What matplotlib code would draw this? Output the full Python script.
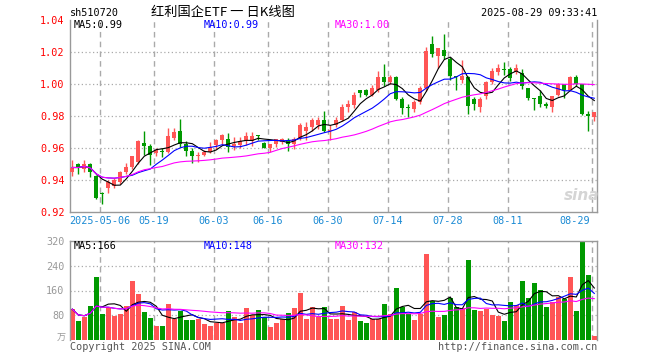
import numpy as np
import pandas as pd
import matplotlib
matplotlib.use('Agg')
import matplotlib.pyplot as plt

# ---------------- data ----------------
holidays = pd.to_datetime(['2025-05-01', '2025-05-02', '2025-05-05', '2025-06-02'])
dates = pd.bdate_range('2025-04-24', '2025-08-29')
dates = dates[~dates.isin(holidays)]

opens = [0.9455, 0.950, 0.947, 0.950, 0.943, 0.932, 0.935, 0.9365, 0.939, 0.945,
         0.9485, 0.9515, 0.9635, 0.9615, 0.957, 0.958, 0.958, 0.9665, 0.9708, 0.963,
         0.9585, 0.955, 0.9558, 0.958, 0.962, 0.965, 0.966, 0.9615, 0.962, 0.9648,
         0.9645, 0.968, 0.9635, 0.960, 0.963, 0.964, 0.965, 0.963, 0.9662, 0.971,
         0.9735, 0.9746, 0.978, 0.9708, 0.9746, 0.9777, 0.986, 0.987, 0.9964, 0.9963,
         0.9935, 0.9964, 1.0048, 1.0015, 1.0044, 0.991, 0.9855, 0.9845, 0.989, 0.9975,
         1.025, 1.0177, 1.0215, 1.016, 1.0048, 1.0025, 1.0045, 0.991, 0.986, 0.993,
         1.0015, 1.008, 1.0095, 1.0097, 1.008, 1.007, 0.9975, 0.9915, 0.9927, 0.9877,
         0.986, 0.9933, 1.000, 0.9965, 1.0044, 1.000, 0.9815, 0.9797]
highs = [0.953, 0.951, 0.953, 0.951, 0.9435, 0.933, 0.940, 0.9415, 0.946, 0.951,
         0.955, 0.965, 0.9708, 0.963, 0.9605, 0.9605, 0.9725, 0.9725, 0.9783, 0.9645,
         0.960, 0.9575, 0.959, 0.964, 0.966, 0.969, 0.9695, 0.967, 0.967, 0.970,
         0.970, 0.9683, 0.964, 0.963, 0.966, 0.9665, 0.9665, 0.967, 0.976, 0.9765,
         0.979, 0.9795, 0.9833, 0.9745, 0.9795, 0.988, 0.990, 0.9955, 0.9965, 0.997,
         0.9995, 1.0085, 1.013, 1.006, 1.005, 0.992, 0.9875, 0.990, 0.999, 1.0235,
         1.030, 1.023, 1.0315, 1.017, 1.0055, 1.0152, 1.005, 0.992, 0.992, 1.002,
         1.0105, 1.0125, 1.014, 1.011, 1.0125, 1.0095, 0.998, 0.9917, 0.9964, 0.989,
         0.993, 1.001, 1.0005, 1.005, 1.0058, 1.0005, 0.9833, 0.983]
lows = [0.943, 0.944, 0.945, 0.942, 0.9285, 0.9255, 0.932, 0.9355, 0.938, 0.944,
        0.947, 0.950, 0.956, 0.9497, 0.955, 0.9545, 0.957, 0.965, 0.961, 0.955,
        0.951, 0.9515, 0.955, 0.957, 0.9595, 0.962, 0.958, 0.959, 0.960, 0.962,
        0.9615, 0.9655, 0.960, 0.958, 0.961, 0.963, 0.9583, 0.9595, 0.965, 0.9655,
        0.971, 0.972, 0.970, 0.965, 0.9735, 0.977, 0.983, 0.9855, 0.992, 0.993,
        0.993, 0.995, 0.999, 1.000, 0.990, 0.9815, 0.9797, 0.9825, 0.988, 0.996,
        1.017, 1.0105, 1.016, 1.003, 0.9965, 1.001, 0.9815, 0.984, 0.9825, 0.991,
        1.000, 1.006, 1.006, 1.002, 1.0065, 0.997, 0.990, 0.984, 0.9856, 0.985,
        0.983, 0.993, 0.9913, 0.996, 0.999, 0.981, 0.971, 0.9773]
closes = [0.948, 0.948, 0.950, 0.945, 0.929, 0.9315, 0.939, 0.940, 0.9455, 0.9485,
          0.955, 0.9645, 0.9617, 0.9558, 0.9588, 0.9577, 0.968, 0.970, 0.963, 0.9585,
          0.955, 0.9558, 0.958, 0.961, 0.965, 0.9683, 0.961, 0.963, 0.9645, 0.968,
          0.968, 0.9678, 0.9605, 0.9627, 0.9656, 0.966, 0.9627, 0.966, 0.9745, 0.9735,
          0.9777, 0.978, 0.971, 0.9715, 0.978, 0.986, 0.9875, 0.9933, 0.9948, 0.9935,
          0.9975, 1.0048, 1.0013, 1.0045, 0.991, 0.985, 0.985, 0.989, 0.9975, 1.021,
          1.019, 1.0225, 1.0175, 1.005, 1.0045, 1.0052, 0.9865, 0.9875, 0.991, 1.0015,
          1.0085, 1.010, 1.009, 1.0037, 1.0105, 0.999, 0.9912, 0.991, 0.988, 0.9865,
          0.9927, 1.000, 0.9965, 1.0048, 1.000, 0.9815, 0.980, 0.9829]
volumes = [100, 63, 74, 110, 204, 86, 107, 79, 84, 110,
           191, 148, 91, 71, 46, 46, 117, 68, 95, 66,
           66, 70, 51, 46, 57, 57, 94, 74, 57, 103,
           81, 97, 75, 44, 54, 70, 87, 103, 153, 69,
           106, 75, 107, 67, 67, 110, 65, 90, 62, 55,
           67, 67, 116, 83, 169, 108, 86, 65, 83, 276,
           127, 75, 81, 137, 107, 105, 257, 97, 94, 102,
           81, 79, 62, 124, 113, 190, 137, 185, 161, 107,
           124, 140, 134, 204, 94, 319, 209, 14]

tick_dates = ['2025-05-06', '2025-05-19', '2025-06-03', '2025-06-16', '2025-06-30',
              '2025-07-14', '2025-07-28', '2025-08-11', '2025-08-29']
tick_labels = ['2025-05-06', '05-19', '06-03', '06-16', '06-30',
               '07-14', '07-28', '08-11', '08-29']
price_ticks = [0.92, 0.94, 0.96, 0.98, 1.00, 1.02, 1.04]
vol_ticks = [80, 160, 240, 320]
price_ma_text = ['MA5:0.99', 'MA10:0.99', 'MA30:1.00']
vol_ma_text = ['MA5:166', 'MA10:148', 'MA30:132']

# ---------------- style ----------------
RED = '#ff5555'
GREEN = '#009900'
GRID = '#aaaaaa'
MONO = 'DejaVu Sans Mono'
ma_colors = ['#000000', '#0000ff', '#ff00ff']
ma_periods = [5, 10, 30]

W, H = 660, 360
fig = plt.figure(figsize=(6.6, 3.6), dpi=100)
fig.patch.set_facecolor('white')

L, R = 70, 597
ax = fig.add_axes([L / W, 1 - 212.3 / H, (R - L) / W, 192.0 / H])
axv = fig.add_axes([L / W, 1 - 340.3 / H, (R - L) / W, 99.6 / H])

n = len(closes)
x = np.arange(n)
o = np.array(opens); h = np.array(highs); lo = np.array(lows); c = np.array(closes)
up = c >= o
cols = np.where(up, RED, GREEN)

# grid
grid_x = [list(dates.strftime('%Y-%m-%d')).index(d) - 0.36 for d in tick_dates]
for a in (ax, axv):
    for gx in grid_x:
        a.axvline(gx, color=GRID, lw=1.0, ls=(0, (4, 3)), zorder=0)
for yv in [0.94, 0.96, 0.98, 1.00, 1.02]:
    ax.axhline(yv, color=GRID, lw=0.9, ls=(0, (1, 2)), zorder=0)
for yv in [80, 160, 240]:
    axv.axhline(yv, color=GRID, lw=0.9, ls=(0, (1, 2)), zorder=0)

# candles
ax.vlines(x, lo, h, colors=cols, lw=1.0, zorder=2)
body_bot = np.minimum(o, c)
body_h = np.maximum(np.abs(c - o), 0.0006)
ax.bar(x, body_h, bottom=body_bot, width=0.68, color=cols, lw=0, zorder=3)

# moving averages on price
cs = pd.Series(closes)
for p, col in zip(ma_periods, ma_colors):
    ax.plot(x, cs.rolling(p, min_periods=1).mean(), color=col, lw=0.8, zorder=4)

# volume
axv.bar(x, volumes, width=0.82, color=cols, lw=0, zorder=2)
vs = pd.Series(volumes, dtype=float)
for p, col in zip(ma_periods, ma_colors):
    axv.plot(x, vs.rolling(p, min_periods=1).mean(), color=col, lw=0.8, zorder=4)

xl = (-(72.3 - L) / 6.0, (n - 1) + (R - 594.3) / 6.0)
for a in (ax, axv):
    a.set_xlim(*xl)
    a.set_xticks([])
    for s in a.spines.values():
        s.set_color('#999999')
        s.set_linewidth(1.0)
ax.spines['top'].set_visible(False)
axv.spines['bottom'].set_visible(False)

ax.set_ylim(0.92, 1.04)
ax.set_yticks(price_ticks)
ax.set_yticklabels(['%.2f' % t for t in price_ticks], color='#ff0000',
                   fontsize=7.3, family=MONO)
ax.tick_params(axis='y', length=0, pad=4)

axv.set_ylim(0, 320)
axv.set_yticks(vol_ticks)
axv.set_yticklabels([str(t) for t in vol_ticks], color='#999999',
                    fontsize=7.3, family=MONO)
axv.tick_params(axis='y', length=0, pad=4)

# date labels
for gx, lab in zip(grid_x, tick_labels):
    px = L + (gx - xl[0]) * 6.0
    if lab == tick_labels[-1]:
        fig.text((px - 2) / W, 1 - 221.5 / H, lab, ha='right', va='center',
                 color='#1a8ad4', fontsize=7.3, family=MONO)
    else:
        fig.text(px / W, 1 - 221.5 / H, lab, ha='center', va='center',
                 color='#1a8ad4', fontsize=7.3, family=MONO)

# header
fig.text(L / W, 1 - 13 / H, 'sh510720', ha='left', va='center',
         fontsize=7.3, family=MONO, color='black')
fig.text(223 / W, 1 - 12.5 / H, '红利国企ETF 一 日K线图', ha='center', va='center',
         fontsize=9.5, family=['Noto Sans CJK SC', 'DejaVu Sans'], color='black')
fig.text(R / W, 1 - 13 / H, '2025-08-29 09:33:41', ha='right', va='center',
         fontsize=7.3, family=MONO, color='black')

# MA labels
for xp, t, col in zip([74, 204, 335], price_ma_text, ma_colors):
    fig.text(xp / W, 1 - 25.5 / H, t, ha='left', va='center', color=col,
             fontsize=7.3, family=MONO)
for xp, t, col in zip([74, 204, 335], vol_ma_text, ma_colors):
    fig.text(xp / W, 1 - 246 / H, t, ha='left', va='center', color=col,
             fontsize=7.3, family=MONO)

# footer
fig.text(66 / W, 1 - 338 / H, '万', ha='right', va='center', color='#999999',
         fontsize=6.5, family=['Noto Sans CJK SC', 'DejaVu Sans'])
fig.text(L / W, 1 - 347 / H, 'Copyright 2025 SINA.COM', ha='left', va='center',
         color='#555555', fontsize=7.3, family=MONO)
fig.text(R / W, 1 - 347 / H, 'http://finance.sina.com.cn', ha='right', va='center',
         color='#555555', fontsize=7.3, family=MONO)

# watermark
fig.text(582 / W, 1 - 196 / H, 'sina', ha='center', va='center', color='#d5d5d5',
         fontsize=11, fontweight='bold', style='italic', family='DejaVu Sans')

fig.savefig('out.png', dpi=100, facecolor='white')
